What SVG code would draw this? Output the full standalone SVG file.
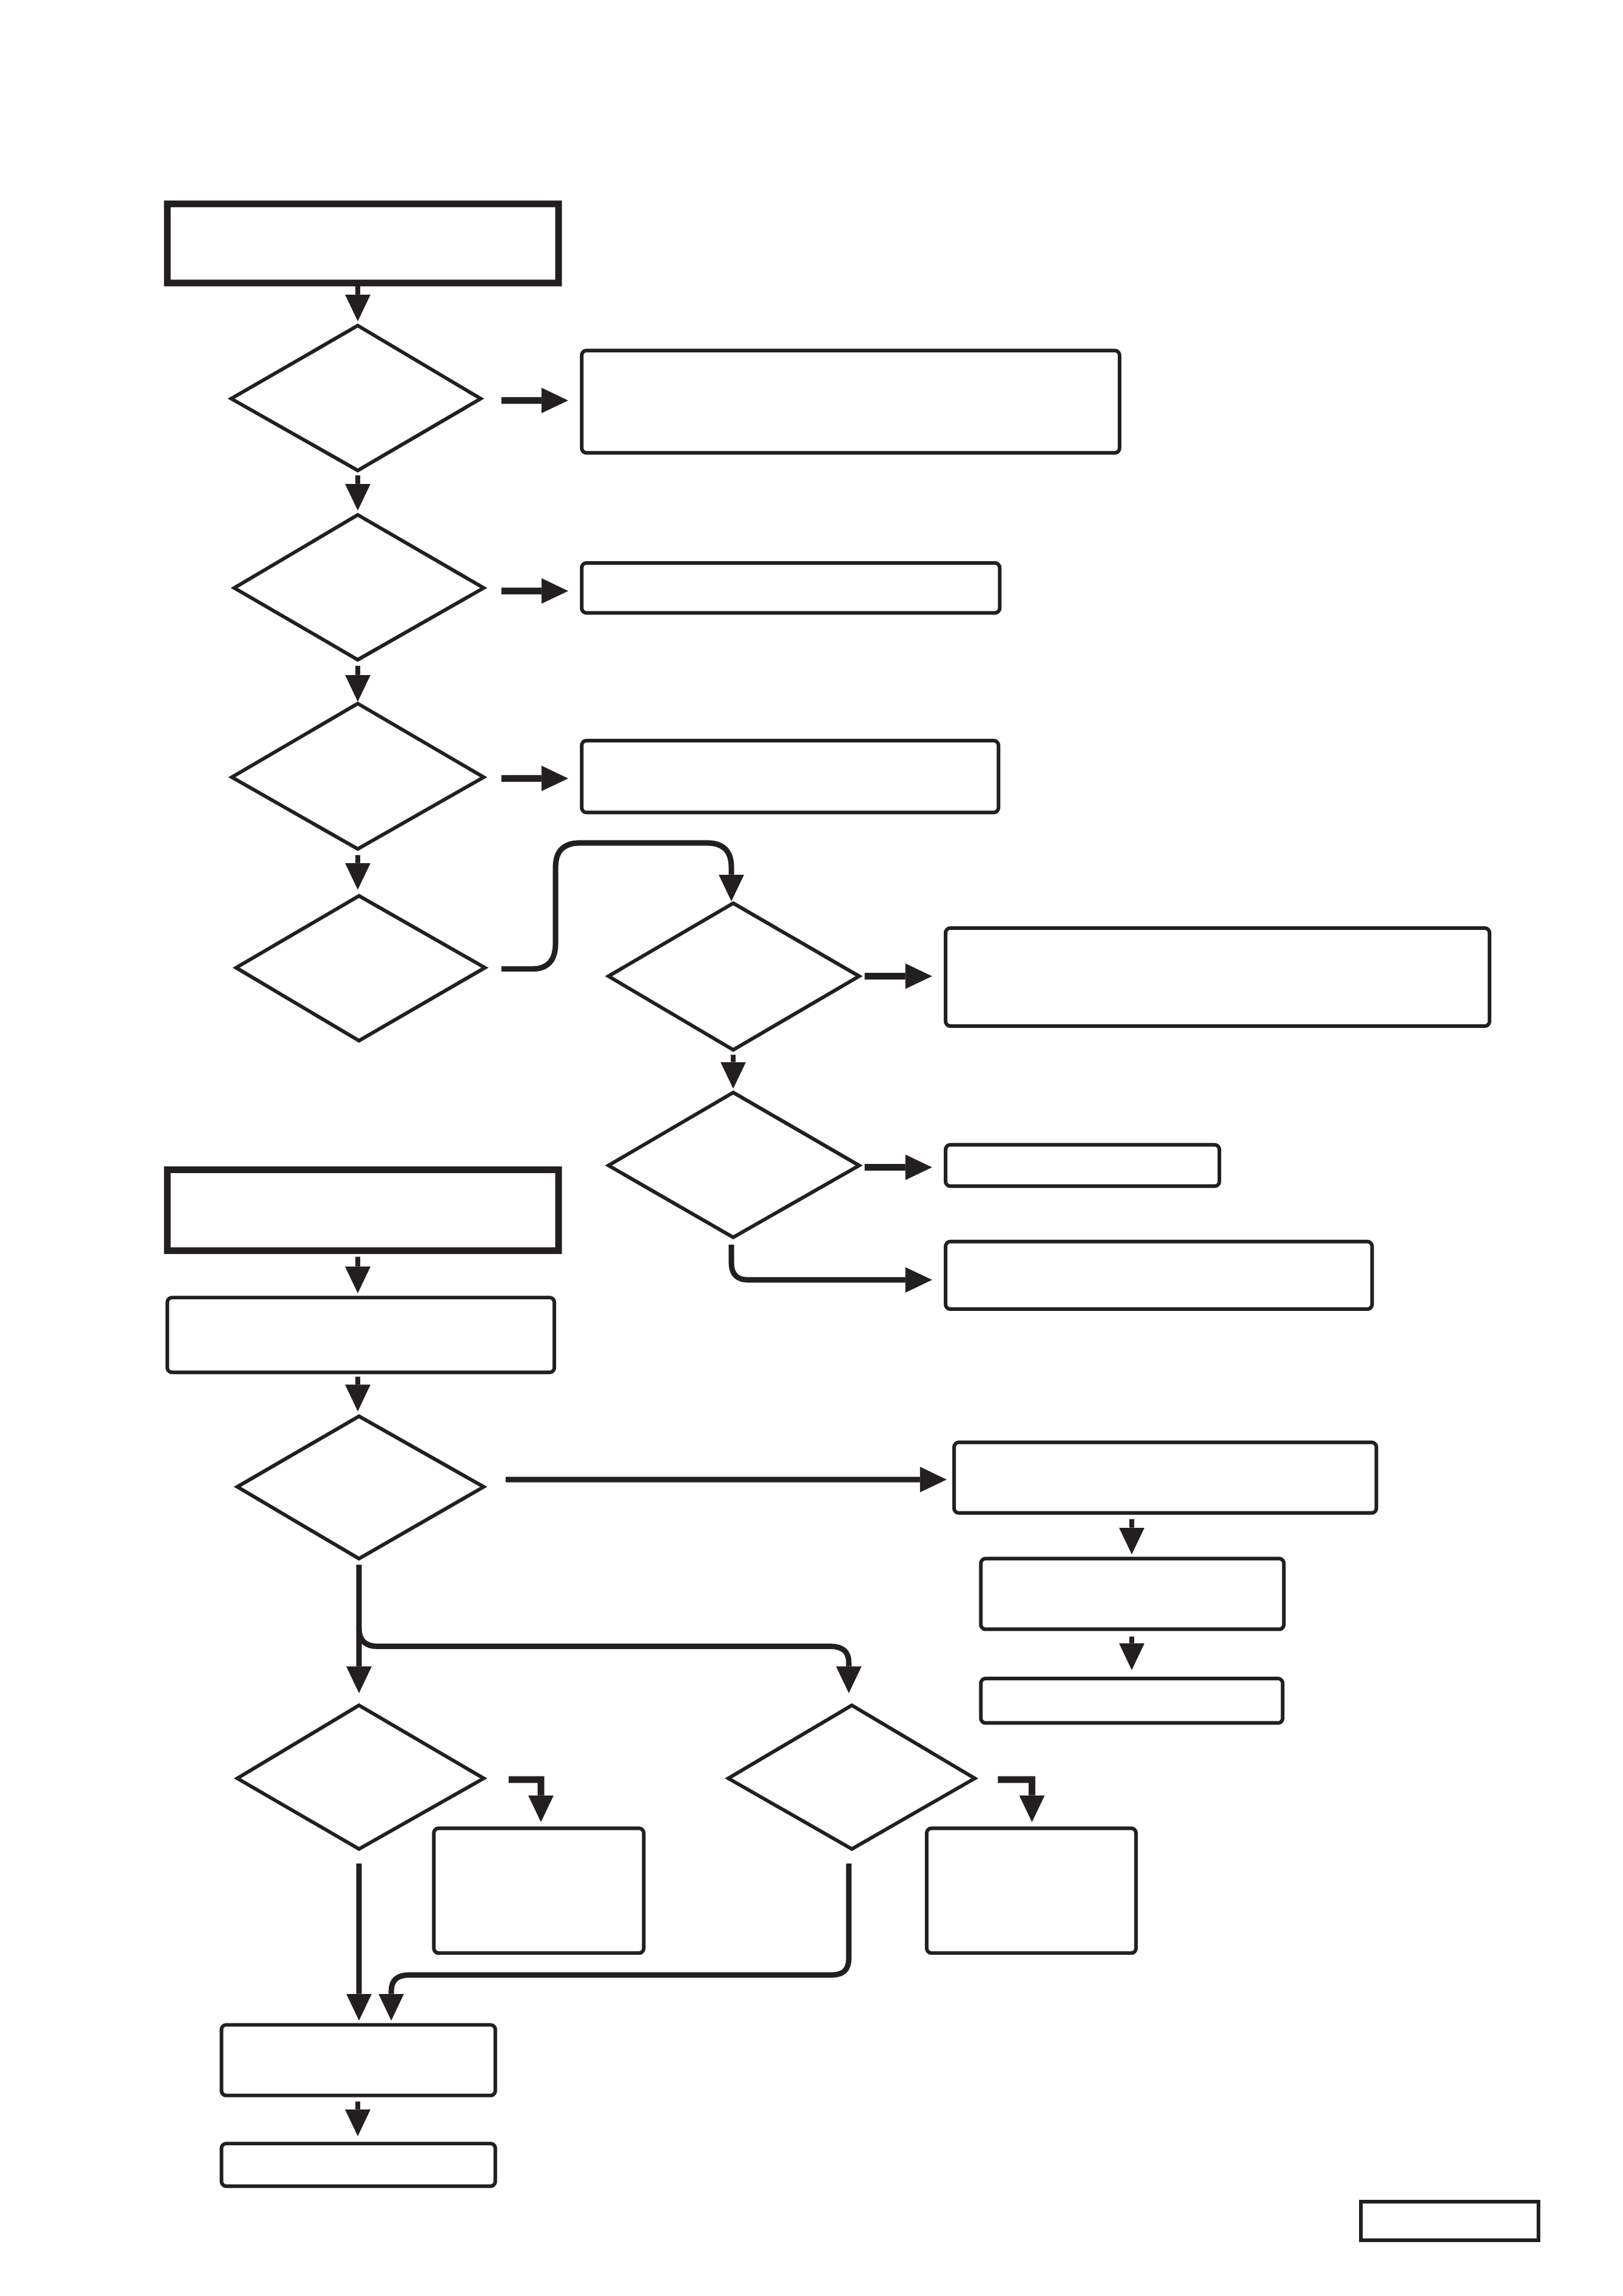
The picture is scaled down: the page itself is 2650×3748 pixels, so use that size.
<svg xmlns="http://www.w3.org/2000/svg" width="2650" height="3748" viewBox="0 0 2650 3748">
<style>
.thick{fill:#fff;stroke:#231f20;stroke-width:11}
.box{fill:#fff;stroke:#231f20;stroke-width:6}
.dia{fill:#fff;stroke:#231f20;stroke-width:6;stroke-linejoin:miter}
.v{fill:none;stroke:#231f20;stroke-width:8}
.h{fill:none;stroke:#231f20;stroke-width:11}
.c{fill:none;stroke:#231f20;stroke-width:9}
</style>
<defs>
<marker id="ah" markerUnits="userSpaceOnUse" markerWidth="46" markerHeight="42" refX="0" refY="21" orient="auto" viewBox="0 0 46 42">
<path d="M0,0 L44,21 L0,42 Z" fill="#231f20"/>
</marker>
</defs>
<rect width="2650" height="3748" fill="#fff"/>
<g transform="scale(0.9935)">
<g id="connectors">
<path class="v" d="M588,468 V484" marker-end="url(#ah)"/>
<path class="h" d="M824,658 H890" marker-end="url(#ah)"/>
<path class="v" d="M588,781 V795" marker-end="url(#ah)"/>
<path class="h" d="M824,971 H890" marker-end="url(#ah)"/>
<path class="v" d="M588,1094 V1109" marker-end="url(#ah)"/>
<path class="h" d="M824,1279 H890" marker-end="url(#ah)"/>
<path class="v" d="M588,1405 V1418" marker-end="url(#ah)"/>
<path class="c" d="M824,1592 H875 Q913,1592 913,1550 V1425 Q913,1385 953,1385 H1162 Q1202,1385 1202,1425 V1437" marker-end="url(#ah)"/>
<path class="h" d="M1421,1604 H1488" marker-end="url(#ah)"/>
<path class="v" d="M1205,1733 V1745" marker-end="url(#ah)"/>
<path class="h" d="M1421,1918 H1488" marker-end="url(#ah)"/>
<path class="c" d="M1202,2045 V2075 Q1202,2103 1230,2103 H1488" marker-end="url(#ah)"/>
<path class="v" d="M588,2065 V2081" marker-end="url(#ah)"/>
<path class="v" d="M588,2262 V2275" marker-end="url(#ah)"/>
<path class="c" d="M831,2431 H1512" marker-end="url(#ah)"/>
<path class="v" d="M1860,2496 V2510" marker-end="url(#ah)"/>
<path class="v" d="M1860,2689 V2700" marker-end="url(#ah)"/>
<path class="c" d="M590,2571 V2738" marker-end="url(#ah)"/>
<path class="c" d="M590,2675 Q590,2705 620,2705 H1365 Q1395,2705 1395,2732 V2738" marker-end="url(#ah)"/>
<path class="h" d="M836,2924 H889 V2950" marker-end="url(#ah)"/>
<path class="h" d="M1640,2924 H1696 V2950" marker-end="url(#ah)"/>
<path class="c" d="M590,3062 V3276" marker-end="url(#ah)"/>
<path class="c" d="M1395,3062 V3218 Q1395,3245 1368,3245 H672 Q643,3245 643,3272 V3276" marker-end="url(#ah)"/>
<path class="v" d="M588,3453 V3466" marker-end="url(#ah)"/>
</g>
<g id="start1"><rect class="thick" x="275" y="335" width="643" height="130"/></g>
<g id="d1"><polygon class="dia" points="588,535 790,655 588,773 380,655"/></g>
<g id="b2"><rect class="box" x="956" y="576" width="884" height="168" rx="8"/></g>
<g id="d2"><polygon class="dia" points="588,846 795,966 588,1084 385,966"/></g>
<g id="b3"><rect class="box" x="956" y="925" width="687" height="82" rx="8"/></g>
<g id="d3"><polygon class="dia" points="588,1156 795,1277 588,1395 381,1277"/></g>
<g id="b4"><rect class="box" x="956" y="1217" width="685" height="118" rx="8"/></g>
<g id="d4"><polygon class="dia" points="590,1472 797,1590 590,1710 388,1590"/></g>
<g id="d5"><polygon class="dia" points="1205,1484 1412,1604 1205,1725 1000,1604"/></g>
<g id="b5"><rect class="box" x="1554" y="1525" width="894" height="161" rx="8"/></g>
<g id="d6"><polygon class="dia" points="1205,1795 1412,1915 1205,2033 1000,1915"/></g>
<g id="b6"><rect class="box" x="1554" y="1881" width="450" height="68" rx="8"/></g>
<g id="b7"><rect class="box" x="1554" y="2040" width="701" height="111" rx="8"/></g>
<g id="start2"><rect class="thick" x="275" y="1922" width="643" height="133"/></g>
<g id="b8"><rect class="box" x="275" y="2132" width="636" height="123" rx="8"/></g>
<g id="d7"><polygon class="dia" points="590,2327 795,2443 590,2561 390,2443"/></g>
<g id="b9"><rect class="box" x="1568" y="2370" width="694" height="116" rx="8"/></g>
<g id="b10"><rect class="box" x="1612" y="2561" width="498" height="116" rx="8"/></g>
<g id="b11"><rect class="box" x="1612" y="2758" width="496" height="73" rx="8"/></g>
<g id="d8"><polygon class="dia" points="590,2802 795,2922 590,3038 390,2922"/></g>
<g id="d9"><polygon class="dia" points="1400,2802 1602,2922 1400,3038 1197,2922"/></g>
<g id="b12"><rect class="box" x="713" y="3004" width="345" height="205" rx="8"/></g>
<g id="b13"><rect class="box" x="1523" y="3004" width="344" height="205" rx="8"/></g>
<g id="b14"><rect class="box" x="364" y="3327" width="450" height="116" rx="8"/></g>
<g id="b15"><rect class="box" x="364" y="3522" width="450" height="70" rx="8"/></g>
</g>
<g id="footer"><rect class="box" x="2222" y="3594" width="290" height="63"/></g>
</svg>
